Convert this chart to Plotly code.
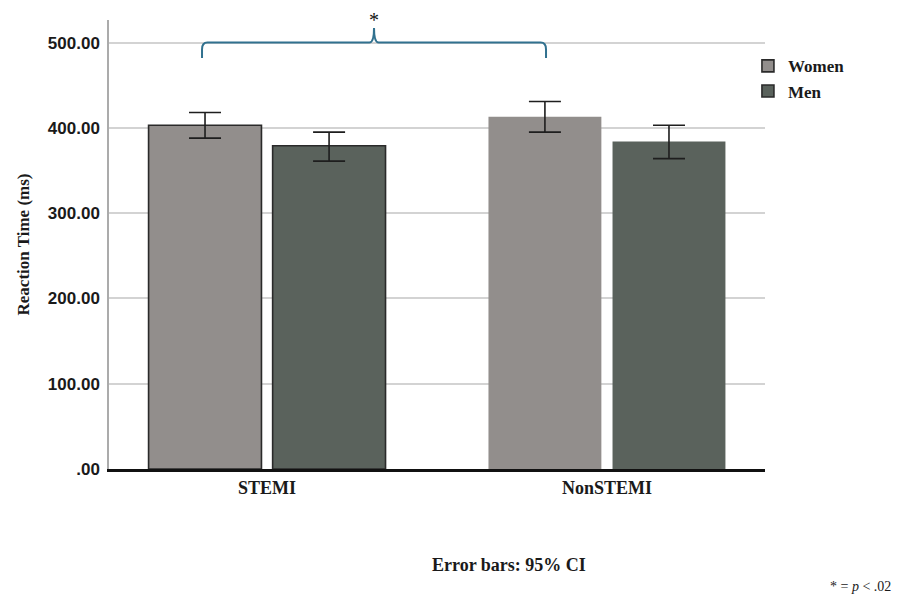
import plotly.graph_objects as go

# Reaction time by infarct type and sex (means with 95% CI bounds)
groups = ["STEMI", "NonSTEMI"]
women_mean = [403, 413]
women_ci_low = [388, 395]
women_ci_high = [418, 431]
men_mean = [379, 384]
men_ci_low = [361, 364]
men_ci_high = [395, 403]

y_ticks = [0, 100, 200, 300, 400, 500]
y_tick_text = [".00", "100.00", "200.00", "300.00", "400.00", "500.00"]

WOMEN_COLOR = "#928E8C"
MEN_COLOR = "#5A625C"
BRACE_COLOR = "#31718F"
SERIF = "Liberation Serif"
SANS = "Liberation Sans"


def err(mean, low, high):
    return dict(
        type="data",
        symmetric=False,
        array=[h - m for m, h in zip(mean, high)],
        arrayminus=[m - l for m, l in zip(mean, low)],
        color="#1E1E1E",
        thickness=1.6,
        width=16,
    )


fig = go.Figure()
fig.add_trace(go.Bar(
    x=groups, y=women_mean, name="Women",
    marker=dict(color=WOMEN_COLOR, line=dict(color="#2A2A2A", width=[1.6, 0])),
    error_y=err(women_mean, women_ci_low, women_ci_high),
))
fig.add_trace(go.Bar(
    x=groups, y=men_mean, name="Men",
    marker=dict(color=MEN_COLOR, line=dict(color="#2A2A2A", width=[1.6, 0])),
    error_y=err(men_mean, men_ci_low, men_ci_high),
))

# curly brace linking the two infarct groups
brace = ("M 0.1418,482 L 0.1418,492 Q 0.1418,500 0.150,500 "
         "L 0.397,500 Q 0.404,500 0.404,517 Q 0.404,500 0.411,500 "
         "L 0.658,500 Q 0.6662,500 0.6662,492 L 0.6662,482")
fig.add_shape(type="path", path=brace, xref="paper", yref="y",
              line=dict(color=BRACE_COLOR, width=2))

fig.add_annotation(x=0.404, xref="paper", y=0.999, yref="paper", yanchor="middle",
                   text="*", showarrow=False,
                   font=dict(family=SERIF, size=20, color="#111"))
fig.add_annotation(x=0.610, xref="paper", y=-0.214, yref="paper", yanchor="middle",
                   text="Error bars: 95% CI", showarrow=False,
                   font=dict(family=SERIF, size=18, color="#1A1A1A", weight="bold"))
fig.add_annotation(x=1.195, xref="paper", y=-0.262, yref="paper",
                   xanchor="right", yanchor="middle",
                   text="* = <i>p</i> < .02", showarrow=False,
                   font=dict(family=SERIF, size=14, color="#1A1A1A"))

fig.update_layout(
    width=898, height=595,
    margin=dict(l=109, r=133, t=20, b=126),
    plot_bgcolor="white", paper_bgcolor="white",
    barmode="group", bargap=0.27, bargroupgap=0.09,
    legend=dict(x=0.974, y=0.937, xanchor="left", yanchor="top",
                font=dict(family=SERIF, size=17, color="#1A1A1A", weight="bold"),
                tracegroupgap=0, itemwidth=30, bgcolor="rgba(0,0,0,0)"),
    xaxis=dict(
        type="category", range=[-0.465, 1.465],
        showline=True, linecolor="#111", linewidth=3,
        showgrid=False, ticks="",
        tickfont=dict(family=SERIF, size=18, color="#1A1A1A", weight="bold"),
    ),
    yaxis=dict(
        range=[0, 526.5],
        tickvals=y_ticks, ticktext=y_tick_text,
        showline=True, linecolor="#ABABAB", linewidth=1.5,
        showgrid=True, gridcolor="#D3D3D3", gridwidth=1.5,
        zeroline=False, ticks="", ticklabelstandoff=4,
        tickfont=dict(family=SANS, size=17, color="#1A1A1A", weight="bold"),
        title=dict(text="Reaction Time (ms)", standoff=14,
                   font=dict(family=SERIF, size=17, color="#1A1A1A", weight="bold")),
    ),
)

fig.write_html("out.html")
